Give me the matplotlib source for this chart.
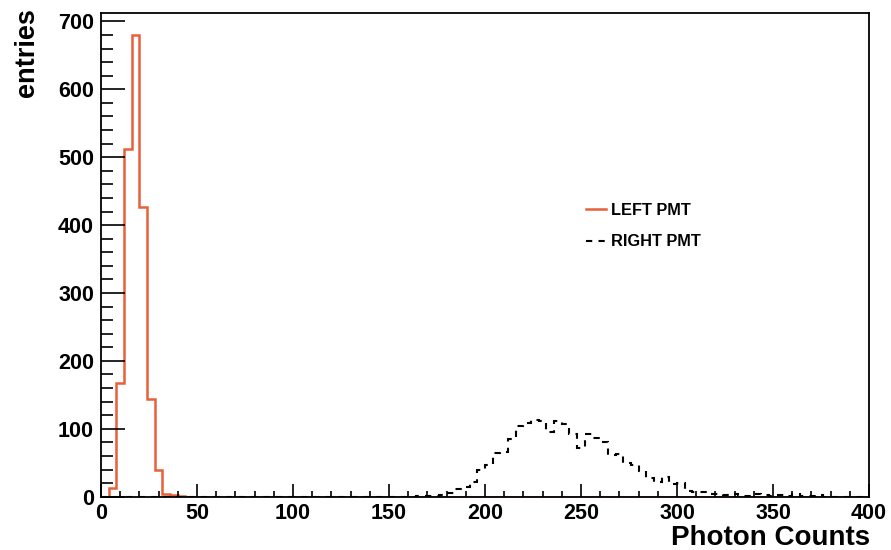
import numpy as np
import matplotlib
matplotlib.use("Agg")
import matplotlib.pyplot as plt
from matplotlib.ticker import MultipleLocator

plt.rcParams['font.family'] = ['Liberation Sans', 'DejaVu Sans']
plt.rcParams['font.weight'] = 'bold'

# bin grid: 100 bins of width 4 from 0 to 400
bin_width = 4
edges = np.arange(0, 400 + bin_width, bin_width)

# LEFT PMT counts, starting with bin [0,4)
left_counts = [0, 13, 168, 512, 680, 426, 144, 39, 4, 2, 1]

# RIGHT PMT counts, starting with bin [160,164)
right_start = 160
right_counts = [0, 1, 1, 1, 3, 6, 11, 14, 22, 39,
                47, 65, 66, 85, 104, 109, 113, 111, 96, 112,
                107, 93, 72, 92, 86, 80, 61, 63, 49, 47,
                38, 28, 22, 29, 19, 20, 8, 7, 7, 4,
                4, 2, 4, 1, 1, 4, 3, 1, 2, 1,
                4, 1, 1, 3]

n_bins = len(edges) - 1
left = np.zeros(n_bins)
left[:len(left_counts)] = left_counts
right = np.zeros(n_bins)
i0 = right_start // bin_width
right[i0:i0 + len(right_counts)] = right_counts

fig = plt.figure(figsize=(8.91, 5.5), dpi=100)
ax = fig.add_axes([101 / 891, 1 - 496.7 / 550, 768 / 891, (496.7 - 13.3) / 550])

ax.stairs(left, edges, color='#e8603a', linewidth=1.8, label='LEFT PMT')
ax.stairs(right, edges, color='black', linewidth=1.5, linestyle=(0, (3, 3)),
          label='RIGHT PMT')

ax.set_xlim(0, 400)
ax.set_ylim(0, 712)

ax.xaxis.set_major_locator(MultipleLocator(50))
ax.xaxis.set_minor_locator(MultipleLocator(10))
ax.yaxis.set_major_locator(MultipleLocator(100))
ax.yaxis.set_minor_locator(MultipleLocator(20))

ax.tick_params(axis='x', which='major', direction='in', length=9.5, width=1.2,
               labelsize=15.5, pad=4.5, top=False)
ax.tick_params(axis='x', which='minor', direction='in', length=4.5, width=1.2, top=False)
ax.tick_params(axis='y', which='major', direction='in', length=17, width=1.2,
               labelsize=15.5, pad=5, right=False)
ax.tick_params(axis='y', which='minor', direction='in', length=8.5, width=1.2, right=False)
for lab in ax.get_xticklabels() + ax.get_yticklabels():
    lab.set_fontweight('bold')

for sp in ax.spines.values():
    sp.set_linewidth(1.3)

fig.text(870 / 891, 1 - 545 / 550, 'Photon Counts', fontsize=20, fontweight='bold',
         ha='right', va='baseline')
fig.text(14 / 891, 1 - 8 / 550, 'entries', fontsize=19.5, fontweight='bold',
         rotation=90, ha='left', va='top')

leg = ax.legend(loc='upper left', bbox_to_anchor=(586 / 891, 1 - 203 / 550),
                bbox_transform=fig.transFigure, frameon=False,
                prop={'size': 11.8, 'weight': 'bold'},
                handlelength=1.2, handletextpad=0.35, labelspacing=1.0,
                borderpad=0, borderaxespad=0)

fig.savefig('out.png', dpi=100)
